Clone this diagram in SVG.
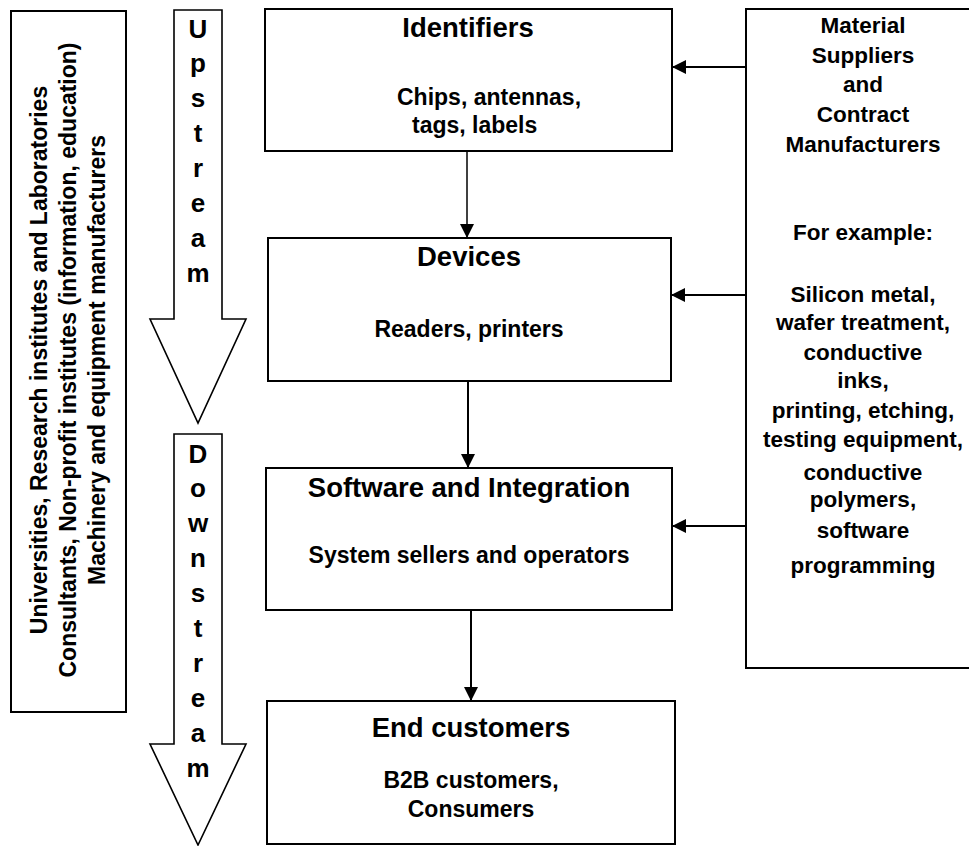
<svg xmlns="http://www.w3.org/2000/svg" width="969" height="846" viewBox="0 0 969 846">
<defs>
<marker id="ahb" viewBox="0 0 10 10" refX="10" refY="5" markerWidth="14" markerHeight="14" markerUnits="userSpaceOnUse" orient="auto">
<path d="M0,0 L10,5 L0,10 z" fill="#000"/>
</marker>
</defs>
<style>
.box{fill:#fff;stroke:#000;stroke-width:2}
.arr{fill:#fff;stroke:#000;stroke-width:1.6}
.t{font-family:"Liberation Sans",Arial,sans-serif;font-weight:bold;fill:#000;text-anchor:middle}
.st{text-anchor:start}
.ti{font-size:27.5px}
.bd{font-size:22.5px}
.bm{font-size:23px}
.lt{font-size:26px}
.rt{font-size:23px}
.con{stroke:#000;stroke-width:2;fill:none}
</style>
<rect width="969" height="846" fill="#fff"/>

<g id="left-box">
<rect class="box" x="11" y="11" width="115" height="701"/>
<text class="t rt" transform="translate(47,360) rotate(-90)">Universities, Research institutes and Laboratories</text>
<text class="t rt" transform="translate(76,360) rotate(-90)">Consultants, Non-profit institutes (information, education)</text>
<text class="t rt" transform="translate(105,360) rotate(-90)">Machinery and equipment manufacturers</text>
</g>

<g id="upstream">
<polygon class="arr" points="174,10 222,10 222,319 246,319 198,423 150,319 174,319"/>
<text class="t lt" x="198" y="38">U</text>
<text class="t lt" x="198" y="72">p</text>
<text class="t lt" x="198" y="107">s</text>
<text class="t lt" x="198" y="142">t</text>
<text class="t lt" x="198" y="177">r</text>
<text class="t lt" x="198" y="212">e</text>
<text class="t lt" x="198" y="247">a</text>
<text class="t lt" x="198" y="282">m</text>
</g>

<g id="downstream">
<polygon class="arr" points="174,434 222,434 222,744 246,744 198,845 150,744 174,744"/>
<text class="t lt" x="198" y="463">D</text>
<text class="t lt" x="198" y="497">o</text>
<text class="t lt" x="198" y="532">w</text>
<text class="t lt" x="198" y="567">n</text>
<text class="t lt" x="198" y="602">s</text>
<text class="t lt" x="198" y="637">t</text>
<text class="t lt" x="198" y="672">r</text>
<text class="t lt" x="198" y="707">e</text>
<text class="t lt" x="198" y="742">a</text>
<text class="t lt" x="198" y="777">m</text>
</g>

<g id="identifiers">
<rect class="box" x="265" y="9" width="407" height="142"/>
<text class="t ti" x="468" y="37">Identifiers</text>
<text class="t bm st" x="397" y="105">Chips, antennas,</text>
<text class="t bm st" x="412" y="133">tags, labels</text>
</g>

<g id="devices">
<rect class="box" x="268" y="238" width="403" height="143"/>
<text class="t ti" x="469" y="266">Devices</text>
<text class="t bm" x="469" y="337">Readers, printers</text>
</g>

<g id="software">
<rect class="box" x="266" y="468" width="406" height="142"/>
<text class="t ti" x="469" y="497">Software and Integration</text>
<text class="t bm" x="469" y="563">System sellers and operators</text>
</g>

<g id="end-customers">
<rect class="box" x="267" y="701" width="408" height="143"/>
<text class="t ti" x="471" y="737">End customers</text>
<text class="t bm" x="471" y="788">B2B customers,</text>
<text class="t bm" x="471" y="817">Consumers</text>
</g>

<g id="suppliers">
<rect class="box" x="746" y="9" width="240" height="659"/>
<text class="t bd" x="863" y="33">Material</text>
<text class="t bd" x="863" y="63">Suppliers</text>
<text class="t bd" x="863" y="92">and</text>
<text class="t bd" x="863" y="122">Contract</text>
<text class="t bd" x="863" y="152">Manufacturers</text>
<text class="t bd" x="863" y="240">For example:</text>
<text class="t bd" x="863" y="302">Silicon metal,</text>
<text class="t bd" x="863" y="330">wafer treatment,</text>
<text class="t bd" x="863" y="360">conductive</text>
<text class="t bd" x="863" y="388">inks,</text>
<text class="t bd" x="863" y="418">printing, etching,</text>
<text class="t bd" x="863" y="447">testing equipment,</text>
<text class="t bd" x="863" y="480">conductive</text>
<text class="t bd" x="863" y="507">polymers,</text>
<text class="t bd" x="863" y="538">software</text>
<text class="t bd" x="863" y="573">programming</text>
</g>

<g id="connectors">
<line class="con" style="stroke-width:1.5" x1="467" y1="151" x2="467" y2="238" marker-end="url(#ahb)"/>
<line class="con" x1="468" y1="381" x2="468" y2="468" marker-end="url(#ahb)"/>
<line class="con" x1="471" y1="610" x2="471" y2="701" marker-end="url(#ahb)"/>
<line class="con" x1="746" y1="67" x2="672" y2="67" marker-end="url(#ahb)"/>
<line class="con" x1="746" y1="295" x2="671" y2="295" marker-end="url(#ahb)"/>
<line class="con" x1="746" y1="526" x2="672" y2="526" marker-end="url(#ahb)"/>
</g>
</svg>
